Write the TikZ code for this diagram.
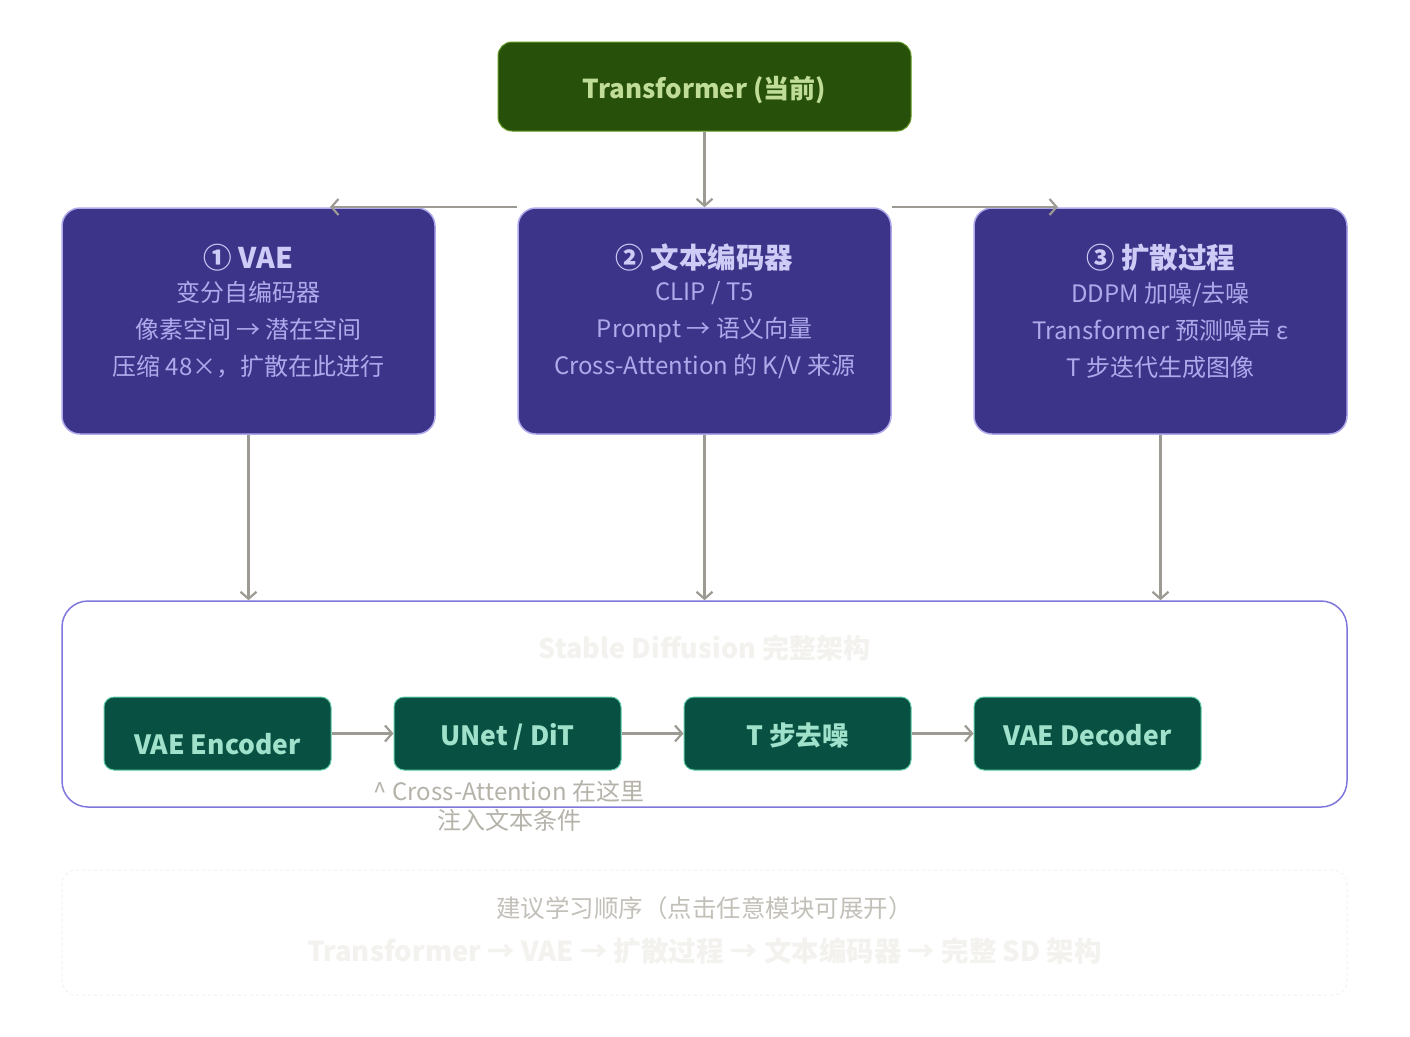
\documentclass[tikz,border=0pt]{standalone}
\usepackage{fontspec}
\setmainfont{Noto Sans CJK SC}
\usetikzlibrary{arrows.meta,calc}
\definecolor{gfill}{HTML}{27500A}
\definecolor{gline}{HTML}{639922}
\definecolor{gtext}{HTML}{C0DD97}
\definecolor{pfill}{HTML}{3C3489}
\definecolor{pline}{HTML}{AFA9EC}
\definecolor{ptitle}{HTML}{CECBF6}
\definecolor{psub}{HTML}{AFA9EC}
\definecolor{tfill}{HTML}{085041}
\definecolor{tline}{HTML}{5DCAA5}
\definecolor{ttext}{HTML}{9FE1CB}
\definecolor{cline}{HTML}{7F77DD}
\definecolor{arrc}{HTML}{9C9A92}
\definecolor{capc}{HTML}{B4B2A9}
\definecolor{faint}{HTML}{F3F2EE}
\definecolor{hintc}{HTML}{C2C0B8}
\tikzset{
  topbox/.style={draw=gline,line width=1pt,fill=gfill,rounded corners=14pt,minimum width=413pt,minimum height=89pt,inner sep=0pt},
  purplebox/.style={draw=pline,line width=1.5pt,fill=pfill,rounded corners=18pt,minimum width=373pt,minimum height=226pt,inner sep=0pt},
  ptext/.style={align=center,text=psub,font=\fontsize{24}{37}\selectfont,inner sep=0pt},
  ptitle/.style={text=ptitle,font=\fontsize{28.5}{30}\selectfont\bfseries,inner sep=0pt,text height=22pt,text depth=6pt},
  tealbox/.style={draw=tline,line width=1pt,fill=tfill,rounded corners=10pt,minimum width=227pt,minimum height=73pt,inner sep=0pt},
  tealtext/.style={text=ttext,font=\fontsize{26.5}{30}\selectfont\bfseries,inner sep=0pt,text height=21pt,text depth=6pt},
  arr/.style={draw=arrc,line width=2.2pt,-{Straight Barb[length=7pt,width=16pt,line width=2.2pt]}},
  captext/.style={text=capc,font=\fontsize{24}{29}\selectfont,inner sep=0pt,align=center},
}
\begin{document}
\begin{tikzpicture}[x=1pt,y=-1pt]
\useasboundingbox[fill=white] (0,0) rectangle (1410,1036);

% top node
\node[topbox] (t) at (704.5,86.5) {};
\node[text=gtext,font=\fontsize{26}{30}\selectfont\bfseries,inner sep=0pt,text height=20pt,text depth=6pt] (tt) at (704.5,91) {Transformer (当前)};

% purple boxes
\node[purplebox] (p1) at (248.5,321) {};
\node[purplebox] (p2) at (704.5,321) {};
\node[purplebox] (p3) at (1160.5,321) {};

\node[ptitle] (p1h) at (248.5,260) {① VAE};
\node[ptitle] (p2h) at (704.5,260) {② 文本编码器};
\node[ptitle] (p3h) at (1160.5,260) {③ 扩散过程};

\node[ptext] (p1t) at (248.5,330) {变分自编码器\\像素空间 → 潜在空间\\压缩 48×，扩散在此进行};
\node[ptext] (p2t) at (704.5,330) {CLIP / T5\\Prompt → 语义向量\\Cross-Attention 的 K/V 来源};
\node[ptext] (p3t) at (1160.5,330) {DDPM 加噪/去噪\\Transformer 预测噪声 ε\\T 步迭代生成图像};

% container
\node[draw=cline,line width=1.5pt,fill=white,rounded corners=26pt,minimum width=1285pt,minimum height=206pt,inner sep=0pt] (sd) at (704.5,704) {};
\node[text=faint,font=\fontsize{27}{30}\selectfont\bfseries,inner sep=0pt] (sdt) at (704.5,648) {Stable Diffusion 完整架构};

% teal boxes
\node[tealbox] (a) at (217.5,733.5) {};
\node[tealbox] (b) at (507.5,733.5) {};
\node[tealbox] (c) at (797.5,733.5) {};
\node[tealbox] (d) at (1087.5,733.5) {};
\node[tealtext] (at) at (217.5,747) {VAE Encoder};
\node[tealtext] (bt) at (507.5,738) {UNet / DiT};
\node[tealtext] (ct) at (797.5,738) {T 步去噪};
\node[tealtext] (dt) at (1087.5,738) {VAE Decoder};

\node[captext] (cap) at (509,806) {\^{} Cross-Attention 在这里\\注入文本条件};

% arrows
\draw[arr] (t.south) -- (p2.north);
\coordinate (lend) at (330,207);
\coordinate (rend) at (1058,207);
\draw[arr] (p2.north west |- lend) -- (lend);
\draw[arr] (p2.north east |- rend) -- (rend);
\draw[arr] (p1.south) -- (p1.south |- sd.north);
\draw[arr] (p2.south) -- (p2.south |- sd.north);
\draw[arr] (p3.south) -- (p3.south |- sd.north);
\draw[arr] (a.east) -- (b.west);
\draw[arr] (b.east) -- (c.west);
\draw[arr] (c.east) -- (d.west);

% bottom hint box
\node[draw=faint,dashed,line width=1pt,rounded corners=14pt,minimum width=1285pt,minimum height=125pt,inner sep=0pt] (hint) at (704.5,932.5) {};
\node[text=hintc,font=\fontsize{24.5}{28}\selectfont,inner sep=0pt] (h1) at (704.5,908) {建议学习顺序（点击任意模块可展开）};
\node[text=faint,font=\fontsize{27.5}{30}\selectfont\bfseries,inner sep=0pt] (h2) at (704.5,951) {Transformer → VAE → 扩散过程 → 文本编码器 → 完整 SD 架构};
\end{tikzpicture}
\end{document}
